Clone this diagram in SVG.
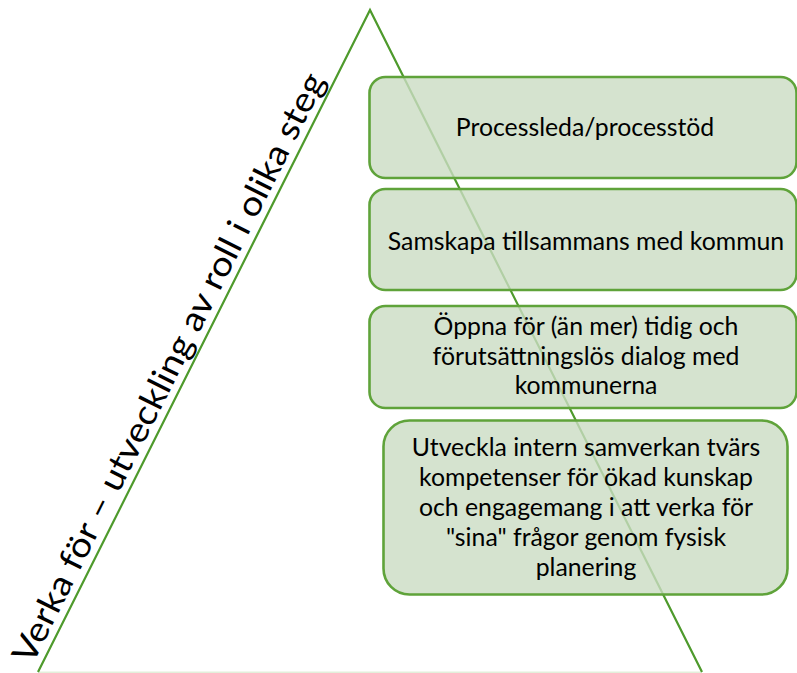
<svg xmlns="http://www.w3.org/2000/svg" width="797" height="673" viewBox="0 0 797 673">
<style>
.tri{fill:none;stroke:#4e9a2c;stroke-width:2.2}
.base{stroke:#e3efdb;stroke-width:2}
.box{fill:#cadcc3;fill-opacity:0.8;stroke:#5fa33a;stroke-width:2.6}
.t{font-family:Lato,"Liberation Sans",sans-serif;font-size:24.8px;fill:#000;text-anchor:middle}
.side{font-family:Lato,"Liberation Sans",sans-serif;font-size:34px;fill:#000}
</style>
<rect width="797" height="673" fill="#fff"/>
<g id="connectors">
<line class="base" x1="38" y1="672.5" x2="702" y2="672.5"/>
<polyline class="tri" points="38,672 370,10 702,672"/>
</g>
<g id="side-label">
<text class="side" transform="translate(38,672) rotate(-63.36)" x="3" y="-8" textLength="655" lengthAdjust="spacingAndGlyphs">Verka för – utveckling av roll i olika steg</text>
</g>
<g id="node1">
<rect class="box" x="369.5" y="77" width="427" height="101" rx="16"/>
<text class="t" x="585" y="136">Processleda/processtöd</text>
</g>
<g id="node2">
<rect class="box" x="369.5" y="189" width="427" height="101" rx="16"/>
<text class="t" x="586" y="250">Samskapa tillsammans med kommun</text>
</g>
<g id="node3">
<rect class="box" x="369.5" y="306" width="427" height="102" rx="16"/>
<text class="t" x="586" y="335">Öppna för (än mer) tidig och</text>
<text class="t" x="586" y="365">förutsättningslös dialog med</text>
<text class="t" x="586" y="394">kommunerna</text>
</g>
<g id="node4">
<rect class="box" x="383.5" y="420.5" width="404" height="174" rx="26"/>
<text class="t" x="586" y="456">Utveckla intern samverkan tvärs</text>
<text class="t" x="586" y="486">kompetenser för ökad kunskap</text>
<text class="t" x="586" y="516">och engagemang i att verka för</text>
<text class="t" x="586" y="546">"sina" frågor genom fysisk</text>
<text class="t" x="586" y="576">planering</text>
</g>
</svg>
